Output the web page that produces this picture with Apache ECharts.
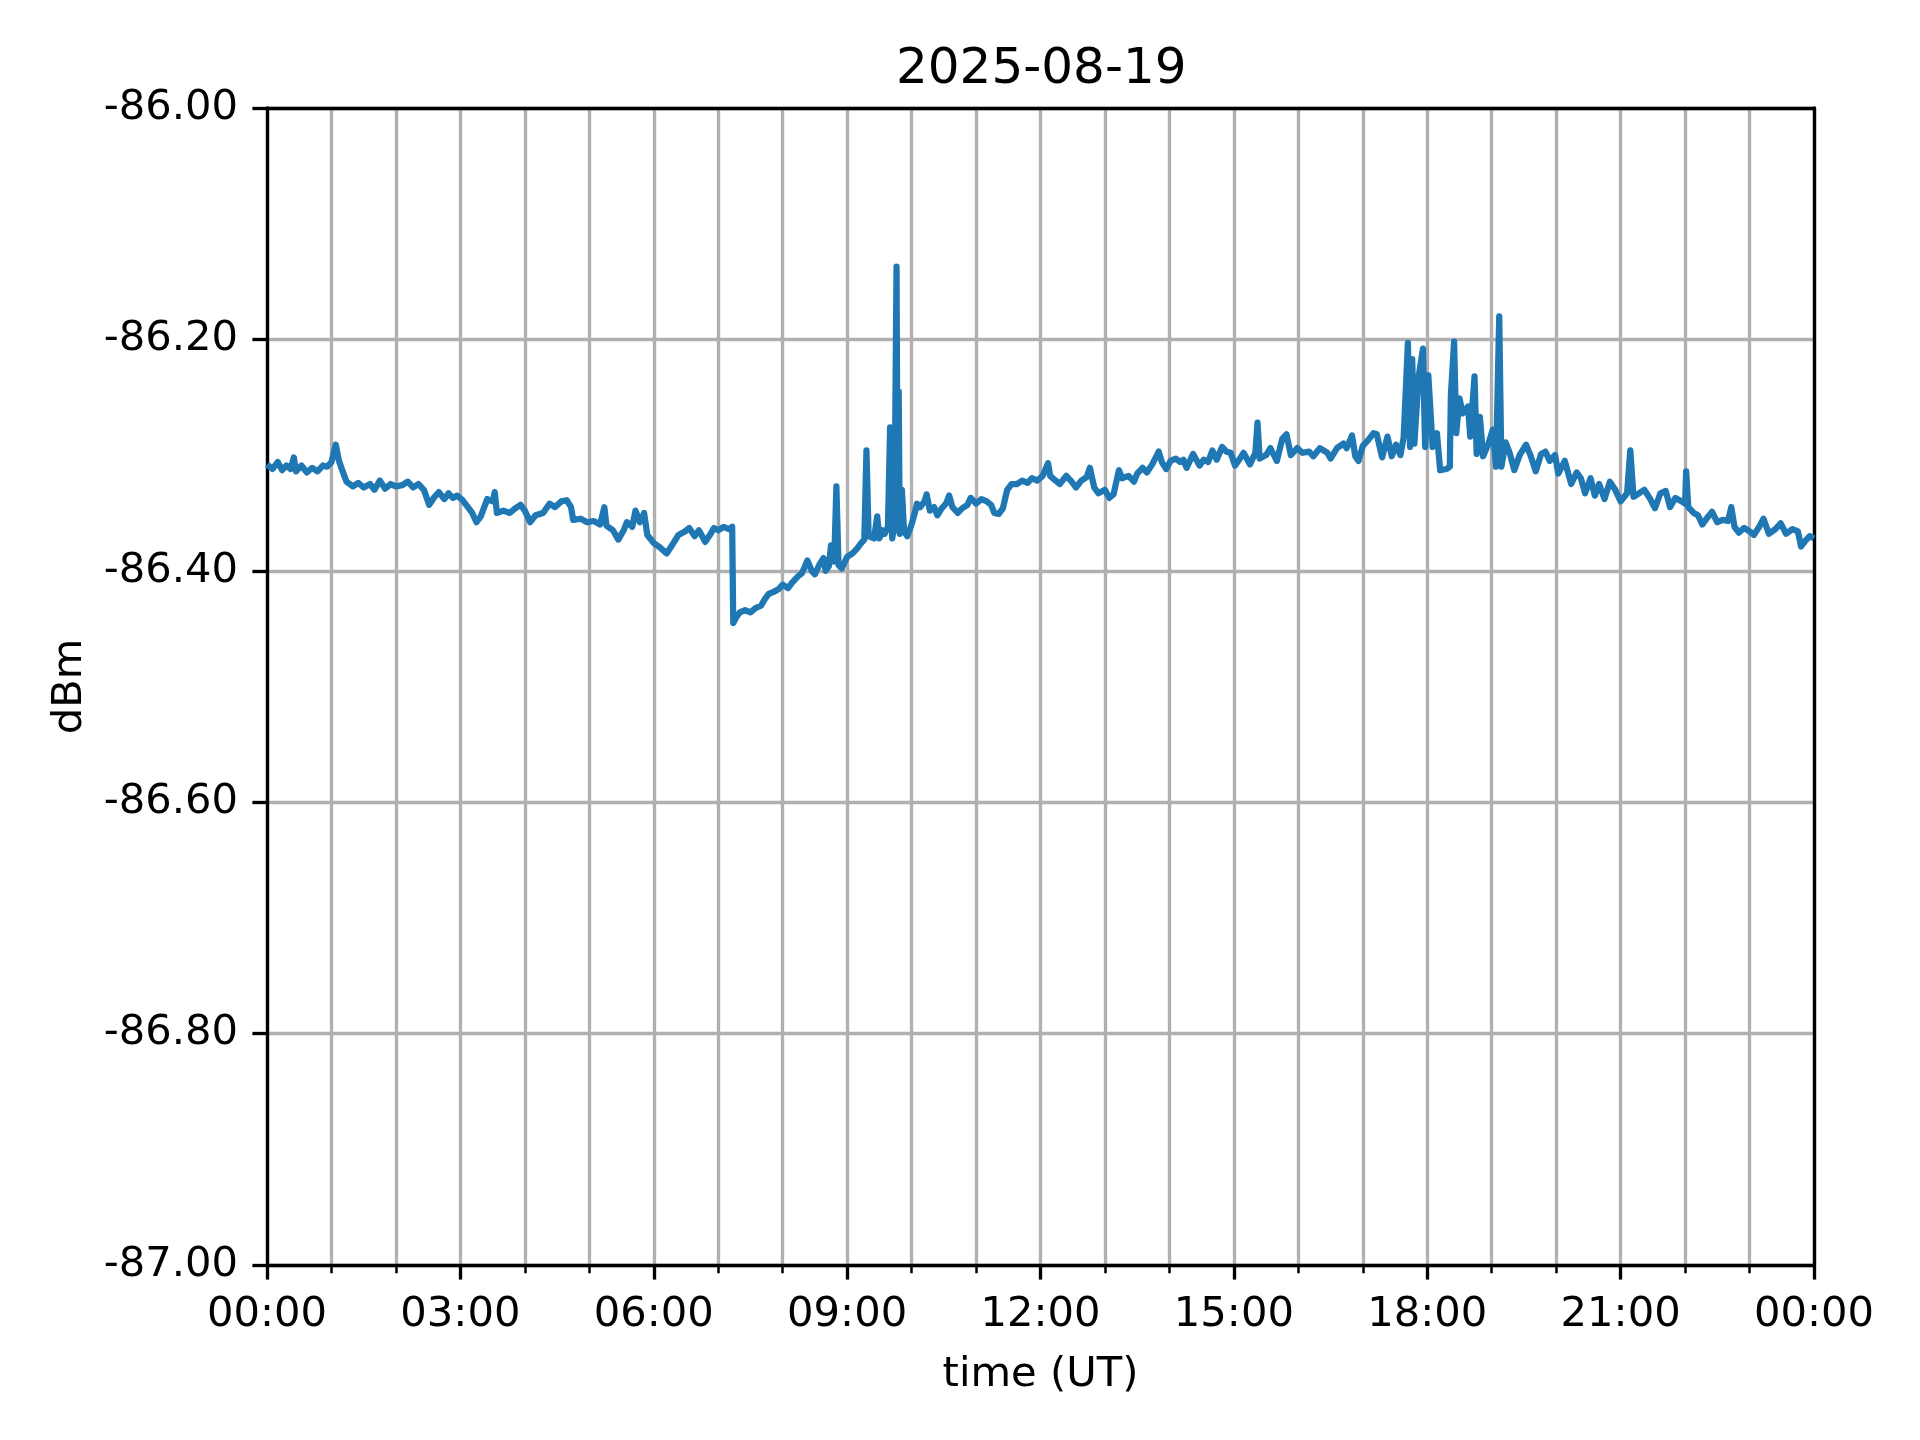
<!DOCTYPE html>
<html>
<head>
<meta charset="utf-8">
<script src="https://cdn.jsdelivr.net/npm/echarts@6/dist/echarts.min.js"></script>
<style>
html,body{margin:0;padding:0;background:#fff;}
#chart{width:1920px;height:1440px;}
</style>
</head>
<body>
<div id="chart"></div>
<script>
var titleText = '2025-08-19';
var xLabelText = 'time (UT)';
var yLabelText = 'dBm';
var xTickHours = [0, 3, 6, 9, 12, 15, 18, 21, 24];
var yTickValues = [-87.0, -86.8, -86.6, -86.4, -86.2, -86.0];

var times = [
'0:00','0:05','0:10','0:14','0:18','0:22','0:25','0:27','0:32','0:37','0:42','0:47','0:52','0:56',
'1:00','1:04','1:07','1:10','1:14','1:20','1:25','1:30','1:36','1:40','1:45','1:50','1:55',
'2:00','2:06','2:11','2:16','2:21','2:26','2:31','2:36','2:40','2:45','2:49','2:53','2:57',
'3:02','3:07','3:11','3:15','3:19','3:25','3:30','3:32','3:34','3:40','3:46','3:51','3:56',
'4:00','4:05','4:10','4:17','4:23','4:28','4:34','4:39','4:43','4:45','4:52','4:58',
'5:04','5:10','5:14','5:16','5:22','5:27','5:32','5:35','5:40','5:43','5:47','5:51','5:54',
'6:00','6:06','6:12','6:17','6:23','6:29','6:33','6:38','6:42','6:48','6:53','6:56',
'7:00','7:05','7:10','7:13','7:14','7:17','7:20','7:25','7:30','7:35','7:40','7:43','7:47','7:52','7:56',
'8:00','8:05','8:09','8:14','8:18','8:23','8:27','8:30','8:34','8:38','8:40','8:43','8:45','8:48','8:50','8:52','8:55',
'9:00','9:05','9:09','9:13','9:16','9:18','9:20','9:25','9:28','9:30','9:33','9:35','9:38','9:40','9:42','9:44','9:46','9:47','9:48','9:49','9:51','9:53','9:56',
'10:00','10:03','10:05','10:08','10:12','10:14','10:17','10:21','10:24','10:28','10:32','10:35','10:38','10:43','10:47','10:52','10:55',
'11:00','11:05','11:10','11:14','11:17','11:21','11:25','11:29','11:33','11:38','11:43','11:48','11:52','11:57',
'12:02','12:07','12:09','12:14','12:18','12:24','12:29','12:33','12:38','12:43','12:46','12:50','12:54',
'13:00','13:04','13:08','13:13','13:16','13:22','13:27','13:30','13:35','13:39','13:44','13:50','13:53','13:57',
'14:01','14:06','14:10','14:13','14:16','14:22','14:28','14:32','14:36','14:40','14:44','14:49','14:53','14:57',
'15:01','15:05','15:09','15:15','15:20','15:22','15:24','15:30','15:34','15:40','15:45','15:49','15:53','15:59',
'16:04','16:10','16:14','16:20','16:27','16:30','16:36','16:42','16:45','16:50','16:53','16:56',
'17:00','17:05','17:10','17:13','17:18','17:23','17:27','17:31','17:35','17:38','17:42','17:44','17:46','17:48','17:52','17:56','17:58',
'18:01','18:05','18:09','18:12','18:18','18:21','18:22','18:25','18:27','18:30','18:33','18:38','18:40','18:44','18:46','18:49','18:52','18:57',
'19:01','19:04','19:07','19:09','19:13','19:17','19:21','19:26','19:32','19:36','19:41','19:46','19:50','19:54','19:59',
'20:02','20:08','20:14','20:19','20:23','20:27','20:32','20:36','20:40','20:45','20:50','20:55',
'21:00','21:06','21:09','21:12','21:17','21:22','21:27','21:32','21:37','21:42','21:46','21:51','21:57',
'22:00','22:01','22:03','22:08','22:12','22:16','22:20','22:25','22:30','22:35','22:40','22:43','22:46','22:50','22:55',
'23:00','23:04','23:09','23:13','23:18','23:24','23:29','23:34','23:40','23:45','23:48','23:52','23:56','24:00'
];

var values = [
-86.308,-86.312,-86.306,-86.313,-86.309,-86.312,-86.302,-86.314,-86.309,-86.315,-86.311,-86.314,-86.309,-86.310,
-86.306,-86.291,-86.305,-86.313,-86.323,-86.327,-86.324,-86.328,-86.325,-86.330,-86.322,-86.329,-86.325,
-86.327,-86.326,-86.323,-86.328,-86.325,-86.330,-86.343,-86.336,-86.332,-86.338,-86.333,-86.337,-86.335,
-86.339,-86.345,-86.350,-86.358,-86.353,-86.338,-86.340,-86.332,-86.350,-86.348,-86.350,-86.346,-86.343,
-86.348,-86.358,-86.352,-86.350,-86.342,-86.345,-86.340,-86.339,-86.345,-86.356,-86.355,-86.358,
-86.357,-86.360,-86.345,-86.361,-86.365,-86.373,-86.365,-86.358,-86.362,-86.348,-86.358,-86.350,-86.369,
-86.376,-86.380,-86.385,-86.378,-86.369,-86.366,-86.363,-86.370,-86.365,-86.375,-86.368,-86.363,
-86.365,-86.362,-86.364,-86.362,-86.445,-86.440,-86.436,-86.434,-86.436,-86.432,-86.430,-86.425,-86.420,-86.418,-86.416,
-86.412,-86.415,-86.410,-86.405,-86.402,-86.391,-86.400,-86.403,-86.395,-86.389,-86.400,-86.396,-86.378,-86.392,-86.327,-86.395,-86.398,
-86.388,-86.385,-86.381,-86.376,-86.373,-86.296,-86.370,-86.372,-86.353,-86.372,-86.365,-86.368,-86.362,-86.276,-86.372,-86.360,-86.137,-86.365,-86.245,-86.368,-86.330,-86.366,-86.370,
-86.360,-86.350,-86.342,-86.345,-86.340,-86.334,-86.348,-86.345,-86.352,-86.346,-86.342,-86.335,-86.345,-86.350,-86.346,-86.343,-86.337,
-86.342,-86.338,-86.340,-86.343,-86.350,-86.351,-86.346,-86.330,-86.325,-86.325,-86.322,-86.324,-86.320,-86.322,
-86.318,-86.307,-86.318,-86.322,-86.325,-86.318,-86.323,-86.328,-86.322,-86.319,-86.311,-86.328,-86.333,
-86.330,-86.337,-86.334,-86.313,-86.320,-86.318,-86.323,-86.316,-86.311,-86.315,-86.308,-86.297,-86.306,-86.312,
-86.305,-86.303,-86.306,-86.304,-86.311,-86.299,-86.309,-86.304,-86.306,-86.296,-86.304,-86.293,-86.297,-86.298,
-86.309,-86.304,-86.298,-86.308,-86.298,-86.272,-86.303,-86.300,-86.294,-86.305,-86.286,-86.282,-86.300,-86.294,
-86.298,-86.297,-86.301,-86.294,-86.298,-86.303,-86.294,-86.290,-86.294,-86.283,-86.301,-86.305,
-86.292,-86.287,-86.281,-86.282,-86.302,-86.284,-86.301,-86.291,-86.300,-86.285,-86.203,-86.293,-86.217,-86.290,-86.232,-86.208,-86.293,
-86.231,-86.293,-86.281,-86.313,-86.312,-86.310,-86.248,-86.202,-86.281,-86.251,-86.264,-86.258,-86.284,-86.232,-86.299,-86.267,-86.301,-86.290,
-86.278,-86.310,-86.180,-86.310,-86.289,-86.299,-86.313,-86.300,-86.291,-86.300,-86.314,-86.299,-86.297,-86.305,-86.300,
-86.316,-86.305,-86.325,-86.315,-86.320,-86.333,-86.320,-86.335,-86.325,-86.338,-86.323,-86.330,
-86.340,-86.333,-86.296,-86.336,-86.333,-86.330,-86.337,-86.346,-86.333,-86.331,-86.345,-86.337,-86.340,
-86.342,-86.314,-86.345,-86.350,-86.352,-86.360,-86.355,-86.349,-86.358,-86.356,-86.357,-86.345,-86.362,-86.367,-86.363,
-86.366,-86.369,-86.362,-86.355,-86.368,-86.364,-86.359,-86.368,-86.364,-86.366,-86.379,-86.374,-86.370,-86.372
];

function toHours(t) {
  var p = t.split(':');
  return parseInt(p[0], 10) + parseInt(p[1], 10) / 60;
}
var seriesData = times.map(function (t, i) { return [toHours(t), values[i]]; });

var FONT = 'DejaVu Sans';
var FS = 41.67;
var LW = 3.33;

var chart = echarts.init(document.getElementById('chart'), null, {renderer: 'canvas'});
chart.setOption({
  animation: false,
  backgroundColor: '#ffffff',
  title: {
    text: titleText,
    left: 891,
    top: 40,
    textStyle: {fontFamily: FONT, fontSize: 50, fontWeight: 'normal', color: '#000'}
  },
  grid: {left: 267, top: 108, right: 106, bottom: 175, containLabel: false},
  xAxis: [{
    type: 'value',
    min: xTickHours[0],
    max: xTickHours[xTickHours.length - 1],
    interval: 3,
    name: xLabelText,
    nameLocation: 'middle',
    nameGap: 89,
    nameTextStyle: {fontFamily: FONT, fontSize: FS, color: '#000'},
    axisLine: {show: true, onZero: false, lineStyle: {color: '#000', width: LW}},
    axisTick: {show: true, length: 14.6, lineStyle: {color: '#000', width: LW}},
    minorTick: {show: true, splitNumber: 3, length: 8.3, lineStyle: {color: '#000', width: 2.5}},
    splitLine: {show: true, lineStyle: {color: '#b0b0b0', width: LW}},
    minorSplitLine: {show: true, lineStyle: {color: '#b0b0b0', width: LW}},
    axisLabel: {
      fontFamily: FONT, fontSize: FS, color: '#000', margin: 29,
      showMinLabel: true, showMaxLabel: true,
      formatter: function (v) {
        var h = Math.round(v) % 24;
        return (h < 10 ? '0' : '') + h + ':00';
      }
    }
  }, {
    type: 'value', position: 'top', min: 0, max: 24,
    axisLine: {show: true, onZero: false, lineStyle: {color: '#000', width: LW}},
    axisTick: {show: false}, axisLabel: {show: false}, splitLine: {show: false}
  }],
  yAxis: [{
    type: 'value',
    min: yTickValues[0],
    max: yTickValues[yTickValues.length - 1],
    interval: 0.2,
    name: yLabelText,
    nameLocation: 'middle',
    nameGap: 176,
    nameTextStyle: {fontFamily: FONT, fontSize: FS, color: '#000'},
    axisLine: {show: true, onZero: false, lineStyle: {color: '#000', width: LW}},
    axisTick: {show: true, length: 14.6, lineStyle: {color: '#000', width: LW}},
    splitLine: {show: true, lineStyle: {color: '#b0b0b0', width: LW}},
    axisLabel: {
      fontFamily: FONT, fontSize: FS, color: '#000', margin: 29,
      showMinLabel: true, showMaxLabel: true,
      formatter: function (v) { return v.toFixed(2); }
    }
  }, {
    type: 'value', position: 'right', min: -87, max: -86,
    axisLine: {show: true, onZero: false, lineStyle: {color: '#000', width: LW}},
    axisTick: {show: false}, axisLabel: {show: false}, splitLine: {show: false}
  }],
  series: [{
    type: 'line',
    xAxisIndex: 0,
    yAxisIndex: 0,
    data: seriesData,
    showSymbol: false,
    symbol: 'none',
    clip: true,
    lineStyle: {color: '#1f77b4', width: 6.25, join: 'round', cap: 'butt'},
    z: 2
  }]
});
</script>
</body>
</html>
